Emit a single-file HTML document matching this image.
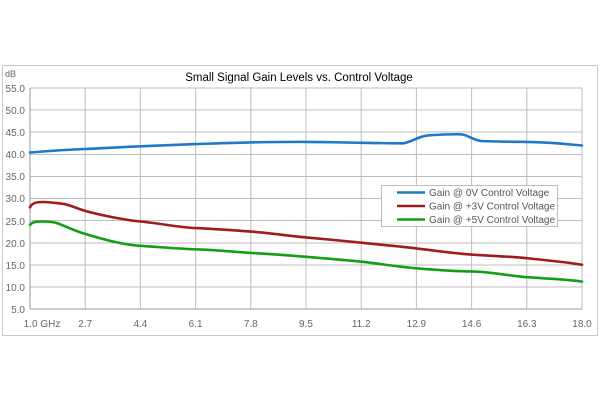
<!DOCTYPE html>
<html><head><meta charset="utf-8"><style>
body{margin:0;background:#fff;}
svg text{font-family:"Liberation Sans",sans-serif;}
</style></head><body>
<svg width="600" height="400" viewBox="0 0 600 400" xmlns="http://www.w3.org/2000/svg">
<rect x="0" y="0" width="600" height="400" fill="#fff"/>
<rect x="2.5" y="65.5" width="595" height="270" fill="#fff" stroke="#c8c8c8" stroke-width="1"/>
<g stroke="#bdbdbd" stroke-width="1">
<line x1="30" y1="88" x2="582" y2="88"/><line x1="30" y1="110" x2="582" y2="110"/><line x1="30" y1="132" x2="582" y2="132"/><line x1="30" y1="154.5" x2="582" y2="154.5"/><line x1="30" y1="176.5" x2="582" y2="176.5"/><line x1="30" y1="198.5" x2="582" y2="198.5"/><line x1="30" y1="220.5" x2="582" y2="220.5"/><line x1="30" y1="243" x2="582" y2="243"/><line x1="30" y1="265" x2="582" y2="265"/><line x1="30" y1="287" x2="582" y2="287"/>
<line x1="85.2" y1="88" x2="85.2" y2="309"/><line x1="140.4" y1="88" x2="140.4" y2="309"/><line x1="195.6" y1="88" x2="195.6" y2="309"/><line x1="250.8" y1="88" x2="250.8" y2="309"/><line x1="306" y1="88" x2="306" y2="309"/><line x1="361.2" y1="88" x2="361.2" y2="309"/><line x1="416.4" y1="88" x2="416.4" y2="309"/><line x1="471.6" y1="88" x2="471.6" y2="309"/><line x1="526.8" y1="88" x2="526.8" y2="309"/><line x1="582" y1="88" x2="582" y2="309"/>
</g>
<line x1="30" y1="88" x2="30" y2="309" stroke="#999"/><line x1="30" y1="309" x2="582" y2="309" stroke="#999"/>
<g font-size="10" fill="#666" text-anchor="end">
<text x="25" y="92">55.0</text><text x="25" y="114">50.0</text><text x="25" y="136">45.0</text><text x="25" y="158">40.0</text><text x="25" y="180">35.0</text><text x="25" y="202">30.0</text><text x="25" y="225">25.0</text><text x="25" y="247">20.0</text><text x="25" y="269">15.0</text><text x="25" y="291">10.0</text><text x="25" y="313">5.0</text>
</g>
<text x="5" y="77" font-size="9" fill="#666">dB</text>
<g font-size="10" fill="#666" text-anchor="middle">
<text x="42" y="327">1.0  GHz</text><text x="85.2" y="327">2.7</text><text x="140.4" y="327">4.4</text><text x="195.6" y="327">6.1</text><text x="250.8" y="327">7.8</text><text x="306" y="327">9.5</text><text x="361.2" y="327">11.2</text><text x="416.4" y="327">12.9</text><text x="471.6" y="327">14.6</text><text x="526.8" y="327">16.3</text><text x="582" y="327">18.0</text>
</g>
<text x="299" y="81" font-size="11.5" fill="#000" text-anchor="middle">Small Signal Gain Levels vs. Control Voltage</text>
<g fill="none" stroke-width="2.6" stroke-linejoin="round" stroke-linecap="round">
<path stroke="#1f78c8" d="M30,152.5 C60,150 70,149.5 85.2,149 S120,147 140.4,146.3 S175,144.8 195.6,144.1 S230,142.8 250.8,142.4 S285,141.8 306,141.9 S340,142.5 361.2,142.8 S395,143.5 403.4,143.3 C412,142 418,136 429.4,135.3 S455,134 461.9,134.4 C470,136 474,140.5 481.4,141 S510,141.7 526.8,141.9 S565,143.8 582,145.5"/>
<path stroke="#a01c1c" d="M30,207.3 C32,203 36,202 43,202 S55,203 62.5,203.8 S75,208 85.2,210.9 S120,219.5 140.4,221.5 S180,227.5 195.6,228.1 S235,230.5 250.8,231.6 S290,236 306,237.4 S345,241 361.2,242.7 S400,246.5 416.4,248.4 S455,253.5 471.6,254.6 S510,256.5 526.8,258.2 S570,262.5 582,264.8"/>
<path stroke="#12a012" d="M30,225 C32,222 36,221.5 43,221.5 S52,222 56,222.8 S72,230 85.2,233.9 S120,244.5 140.4,245.8 S180,249 195.6,249.3 S235,252 250.8,252.9 S290,255.5 306,256.8 S345,260 361.2,261.7 S400,267 416.4,268.3 S455,271.4 471.6,271.4 S510,276 526.8,277.2 S570,279.5 582,281.6"/>
</g>
<rect x="381.5" y="185.5" width="176" height="41" fill="#fff" stroke="#bdbdbd"/>
<line x1="397" y1="192.5" x2="425" y2="192.5" stroke="#1f78c8" stroke-width="2.6"/>
<line x1="397" y1="206" x2="425" y2="206" stroke="#a01c1c" stroke-width="2.6"/>
<line x1="397" y1="219.5" x2="425" y2="219.5" stroke="#12a012" stroke-width="2.6"/>
<g font-size="10" fill="#555">
<text x="429" y="196">Gain @ 0V Control Voltage</text>
<text x="429" y="209.5">Gain @ +3V Control Voltage</text>
<text x="429" y="223">Gain @ +5V Control Voltage</text>
</g>
</svg>
</body></html>
